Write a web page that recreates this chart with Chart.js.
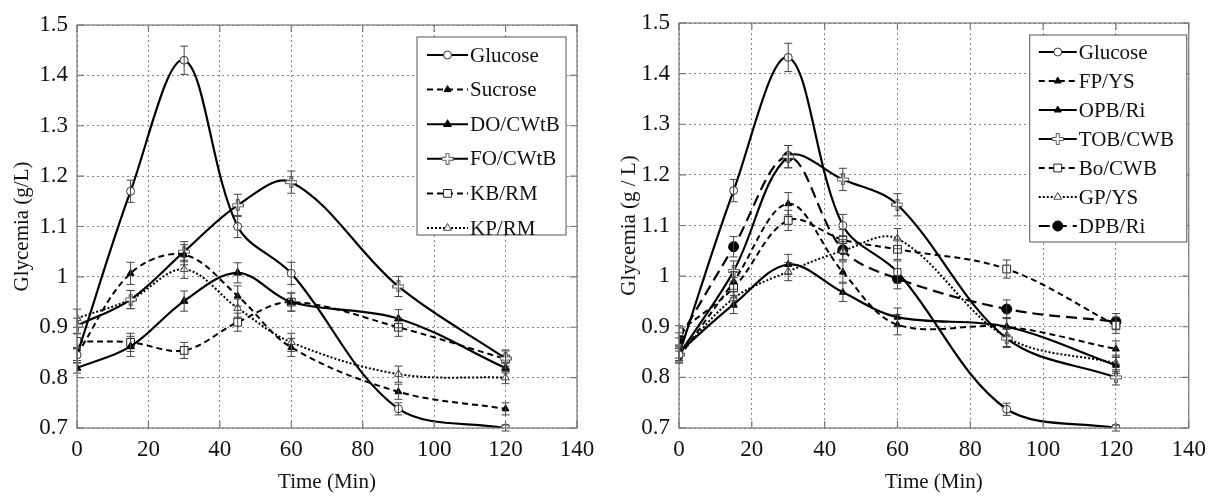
<!DOCTYPE html>
<html>
<head>
<meta charset="utf-8">
<script src="https://cdn.jsdelivr.net/npm/chart.js@4.4.1/dist/chart.umd.min.js"></script>
<style>
  html, body { margin: 0; padding: 0; background: #fff; }
  .panel { position: absolute; top: 0; width: 607px; height: 497px; }
  #left { left: 0; }
  #right { left: 607px; }
</style>
</head>
<body>
<div class="panel" id="left"><canvas id="chartLeft" width="607" height="497"></canvas></div>
<div class="panel" id="right"><canvas id="chartRight" width="607" height="497"></canvas></div>
<script>
// temps de prélèvement (min)
const times = [0, 15, 30, 45, 60, 90, 120];
const xTicks = [0, 20, 40, 60, 80, 100, 120, 140];
const yTicks = [0.7, 0.8, 0.9, 1.0, 1.1, 1.2, 1.3, 1.4, 1.5];

// graphique de gauche
const glucoseL = [0.845, 1.170, 1.430, 1.100, 1.007, 0.738, 0.700];
const sucrose  = [0.846, 1.007, 1.044, 0.962, 0.860, 0.772, 0.738];
const doCWtB   = [0.819, 0.862, 0.952, 1.008, 0.950, 0.917, 0.819];
const foCWtB   = [0.903, 0.955, 1.050, 1.142, 1.188, 0.981, 0.838];
const kbRM     = [0.872, 0.870, 0.854, 0.910, 0.950, 0.900, 0.837];
const kpRM     = [0.918, 0.955, 1.015, 0.938, 0.870, 0.807, 0.800];

const errGlucoseL = [0.015, 0.022, 0.028, 0.022, 0.022, 0.012, 0.006];
const errSucrose  = [0.012, 0.022, 0.020, 0.020, 0.018, 0.015, 0.012];
const errDoCWtB   = [0.010, 0.020, 0.020, 0.020, 0.018, 0.018, 0.010];
const errFoCWtB   = [0.015, 0.018, 0.020, 0.022, 0.022, 0.020, 0.015];
const errKbRM     = [0.015, 0.018, 0.016, 0.018, 0.018, 0.018, 0.018];
const errKpRM     = [0.018, 0.018, 0.018, 0.018, 0.018, 0.016, 0.012];

// graphique de droite
const glucoseR = [0.845, 1.169, 1.432, 1.100, 1.008, 0.737, 0.700];
const fpYS     = [0.840, 0.989, 1.143, 1.008, 0.904, 0.900, 0.856];
const opbRi    = [0.850, 0.944, 1.023, 0.968, 0.919, 0.900, 0.824];
const tobCWB   = [0.845, 1.010, 1.236, 1.191, 1.141, 0.877, 0.800];
const boCWB    = [0.890, 0.977, 1.110, 1.072, 1.053, 1.014, 0.903];
const gpYS     = [0.845, 0.956, 1.009, 1.050, 1.074, 0.879, 0.828];
const dpbRi    = [0.876, 1.058, 1.236, 1.052, 0.995, 0.935, 0.910];

const errGlucoseR = [0.015, 0.022, 0.028, 0.022, 0.022, 0.012, 0.006];
const errFpYS     = [0.012, 0.020, 0.022, 0.020, 0.020, 0.018, 0.016];
const errOpbRi    = [0.012, 0.018, 0.020, 0.018, 0.018, 0.016, 0.016];
const errTobCWB   = [0.012, 0.020, 0.022, 0.022, 0.022, 0.018, 0.015];
const errBoCWB    = [0.012, 0.020, 0.020, 0.020, 0.020, 0.018, 0.016];
const errGpYS     = [0.012, 0.018, 0.018, 0.018, 0.020, 0.018, 0.016];
const errDpbRi    = [0.012, 0.020, 0.022, 0.020, 0.020, 0.018, 0.016];

const SERIF = "'Liberation Serif', 'DejaVu Serif', serif";

// marqueur "croix ouverte" (FO/CWtB, TOB/CWB)
function openCross() {
    const c = document.createElement('canvas');
    c.width = 12; c.height = 12;
    const g = c.getContext('2d');
    g.fillStyle = '#fff';
    g.strokeStyle = '#555';
    g.lineWidth = 1;
    g.beginPath();
    const p = [[4.5,0.5],[7.5,0.5],[7.5,4.5],[11.5,4.5],[11.5,7.5],[7.5,7.5],[7.5,11.5],[4.5,11.5],[4.5,7.5],[0.5,7.5],[0.5,4.5],[4.5,4.5]];
    p.forEach((q, i) => i ? g.lineTo(q[0], q[1]) : g.moveTo(q[0], q[1]));
    g.closePath();
    g.fill();
    g.stroke();
    return c;
}
const CROSS = openCross();

/**
 * Construit un dataset à partir d'une série
 */
function serie(label, values, errors, style) {
    return {
        label: label,
        data: times.map((t, i) => ({ x: t, y: values[i] })),
        errors: errors,
        borderColor: '#000',
        borderWidth: style.width || 2.2,
        borderDash: style.dash || [],
        tension: 0.35,
        fill: false,
        pointStyle: style.point,
        pointRadius: style.radius || 4,
        pointBackgroundColor: style.bg,
        pointBorderColor: style.border || '#000',
        pointBorderWidth: 1
    };
}

const DASH = [6, 4];
const DOT = [2, 2];
const LONG = [11, 6];

// barres d'erreur
const errorBars = {
    id: 'errorBars',
    afterDatasetsDraw(chart) {
        const ctx = chart.ctx, ys = chart.scales.y, xs = chart.scales.x;
        ctx.save();
        ctx.strokeStyle = '#444';
        ctx.lineWidth = 1;
        chart.data.datasets.forEach(ds => {
            ds.data.forEach((p, i) => {
                const e = ds.errors[i];
                const x = xs.getPixelForValue(p.x);
                const y1 = ys.getPixelForValue(p.y - e);
                const y2 = ys.getPixelForValue(p.y + e);
                ctx.beginPath();
                ctx.moveTo(x, y1); ctx.lineTo(x, y2);
                ctx.moveTo(x - 4, y1); ctx.lineTo(x + 4, y1);
                ctx.moveTo(x - 4, y2); ctx.lineTo(x + 4, y2);
                ctx.stroke();
            });
        });
        ctx.restore();
    }
};

// cadre et graduations internes
const frame = {
    id: 'frame',
    afterDraw(chart) {
        const ctx = chart.ctx, a = chart.chartArea, xs = chart.scales.x, ys = chart.scales.y;
        ctx.save();
        ctx.strokeStyle = '#777';
        ctx.lineWidth = 1.2;
        ctx.strokeRect(a.left, a.top, a.right - a.left, a.bottom - a.top);
        ctx.beginPath();
        xTicks.forEach(v => {
            const x = xs.getPixelForValue(v);
            ctx.moveTo(x, a.bottom); ctx.lineTo(x, a.bottom - 7);
            ctx.moveTo(x, a.top); ctx.lineTo(x, a.top + 7);
        });
        yTicks.forEach(v => {
            const y = ys.getPixelForValue(v);
            ctx.moveTo(a.left, y); ctx.lineTo(a.left + 7, y);
            ctx.moveTo(a.right, y); ctx.lineTo(a.right - 7, y);
        });
        ctx.stroke();
        ctx.restore();
    }
};

// légende dans la zone du graphique
const insideLegend = {
    id: 'insideLegend',
    afterDraw(chart, args, o) {
        const ctx = chart.ctx, a = chart.chartArea;
        const x0 = a.right - o.right - o.width, y0 = a.top + o.top;
        ctx.save();
        ctx.fillStyle = '#fff';
        ctx.fillRect(x0, y0, o.width, o.height);
        ctx.strokeStyle = '#555';
        ctx.lineWidth = 1;
        ctx.strokeRect(x0, y0, o.width, o.height);
        chart.data.datasets.forEach((ds, i) => {
            const y = y0 + o.first + i * o.row;
            const lx = x0 + o.lineX;
            ctx.strokeStyle = '#000';
            ctx.lineWidth = 2;
            ctx.setLineDash(ds.borderDash);
            ctx.beginPath();
            ctx.moveTo(lx, y); ctx.lineTo(lx + o.lineW, y);
            ctx.stroke();
            ctx.setLineDash([]);
            ctx.fillStyle = ds.pointBackgroundColor;
            ctx.strokeStyle = ds.pointBorderColor;
            ctx.lineWidth = 1;
            Chart.helpers.drawPoint(ctx, {
                pointStyle: ds.pointStyle, radius: ds.pointRadius, borderWidth: 1, rotation: 0
            }, lx + o.lineW / 2, y);
            ctx.fillStyle = '#111';
            ctx.font = '21px ' + SERIF;
            ctx.textBaseline = 'middle';
            ctx.textAlign = 'left';
            ctx.fillText(ds.label, lx + o.lineW + 2, y + 1);
        });
        ctx.restore();
    }
};

function makeOptions(yTitle, pad, yWidth, legend) {
    const tickFont = { family: SERIF, size: 23 };
    const titleFont = { family: SERIF, size: 21 };
    return {
        responsive: false,
        animation: false,
        layout: { padding: pad },
        plugins: {
            legend: { display: false },
            tooltip: { enabled: false },
            insideLegend: legend
        },
        scales: {
            x: {
                type: 'linear', min: 0, max: 140,
                afterBuildTicks: axis => { axis.ticks = xTicks.map(v => ({ value: v })); },
                afterFit: axis => { axis.height = 497 - 428 - pad.bottom; },
                ticks: { color: '#111', font: tickFont, padding: 8, maxRotation: 0 },
                grid: { color: '#888', lineWidth: 1, drawTicks: false },
                border: { display: false, dash: [2, 3] },
                title: { display: true, text: 'Time (Min)', color: '#111', font: titleFont, padding: { top: 0, bottom: 2 } }
            },
            y: {
                min: 0.7, max: 1.5,
                afterBuildTicks: axis => { axis.ticks = yTicks.map(v => ({ value: v })); },
                afterFit: axis => { axis.width = yWidth; },
                ticks: {
                    color: '#111', font: tickFont, padding: 9,
                    callback: v => String(Number(v.toFixed(1)))
                },
                grid: { color: '#888', lineWidth: 1, drawTicks: false },
                border: { display: false, dash: [2, 3] },
                title: { display: true, text: yTitle, color: '#111', font: titleFont, padding: { top: 10, bottom: 0 } }
            }
        }
    };
}

document.addEventListener('DOMContentLoaded', function() {
    new Chart(document.getElementById('chartLeft'), {
        type: 'line',
        data: {
            datasets: [
                serie('Glucose', glucoseL, errGlucoseL, { point: 'circle', bg: '#fff', border: '#333', radius: 4 }),
                serie('Sucrose', sucrose, errSucrose, { point: 'triangle', bg: '#000', dash: DASH, width: 2, radius: 4 }),
                serie('DO/CWtB', doCWtB, errDoCWtB, { point: 'triangle', bg: '#000', radius: 4.5 }),
                serie('FO/CWtB', foCWtB, errFoCWtB, { point: CROSS, bg: '#fff', border: '#555', radius: 6 }),
                serie('KB/RM', kbRM, errKbRM, { point: 'rect', bg: '#fff', border: '#222', dash: DASH, width: 2, radius: 5.5 }),
                serie('KP/RM', kpRM, errKpRM, { point: 'triangle', bg: '#fff', border: '#444', dash: DOT, width: 2, radius: 4.5 })
            ]
        },
        options: makeOptions('Glycemia (g/L)', { top: 25, right: 30, left: 0, bottom: 0 }, 77,
            { right: 11, top: 12, width: 149, height: 198, lineX: 10, lineW: 41, first: 18, row: 34.6 }),
        plugins: [errorBars, frame, insideLegend]
    });

    new Chart(document.getElementById('chartRight'), {
        type: 'line',
        data: {
            datasets: [
                serie('Glucose', glucoseR, errGlucoseR, { point: 'circle', bg: '#fff', border: '#333', radius: 4 }),
                serie('FP/YS', fpYS, errFpYS, { point: 'triangle', bg: '#000', dash: DASH, width: 2, radius: 4 }),
                serie('OPB/Ri', opbRi, errOpbRi, { point: 'triangle', bg: '#000', radius: 4 }),
                serie('TOB/CWB', tobCWB, errTobCWB, { point: CROSS, bg: '#fff', border: '#555', radius: 6 }),
                serie('Bo/CWB', boCWB, errBoCWB, { point: 'rect', bg: '#fff', border: '#222', dash: DASH, width: 2, radius: 5.5 }),
                serie('GP/YS', gpYS, errGpYS, { point: 'triangle', bg: '#fff', border: '#444', dash: DOT, width: 2, radius: 4.5 }),
                serie('DPB/Ri', dpbRi, errDpbRi, { point: 'circle', bg: '#000', dash: LONG, width: 2.2, radius: 5 })
            ]
        },
        options: makeOptions('Glycemia (g / L)', { top: 23, right: 19, left: 0, bottom: 0 }, 72,
            { right: 2, top: 12, width: 157, height: 207, lineX: 9, lineW: 38, first: 17, row: 29 }),
        plugins: [errorBars, frame, insideLegend]
    });
});
</script>
</body>
</html>
